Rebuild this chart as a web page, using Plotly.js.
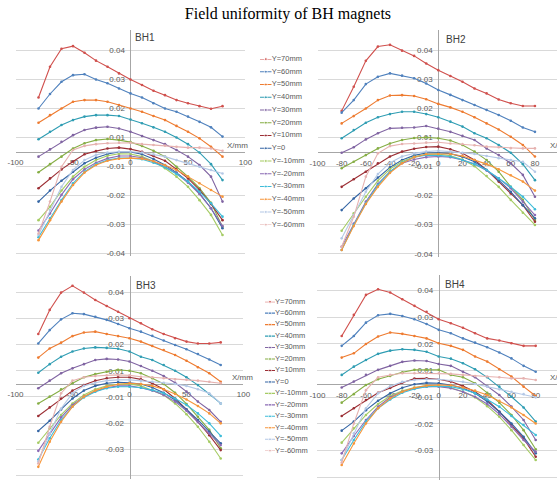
<!DOCTYPE html>
<html><head><meta charset="utf-8">
<script src="https://cdn.plot.ly/plotly-3.0.1.min.js"></script>
<style>html,body{margin:0;padding:0;background:#fff;}#chart{width:557px;height:480px;}</style>
</head><body><div id="chart"></div>
<script>
// ---------- data ----------
const xPositions = [-80,-70,-60,-50,-40,-30,-20,-10,0,10,20,30,40,50,60,70,80];
const seriesNames = ['Y=70mm','Y=60mm','Y=50mm','Y=40mm','Y=30mm','Y=20mm','Y=10mm','Y=0','Y=-10mm','Y=-20mm','Y=-30mm','Y=-40mm','Y=-50mm','Y=-60mm'];
const panelTitles = ['BH1','BH2','BH3','BH4'];
const yTickVals = [-0.035,-0.025,-0.015,-0.005,0.005,0.015,0.025,0.035];
const yTickText = ['-0.04','-0.03','-0.02','-0.01','0.01','0.02','0.03','0.04'];
const xTicksCoarse = [-100,-50,0,50,100];
const xTicksFine = [-100,-80,-60,-40,-20,0,20,40,60,80,100];

const bh1Values = [
 [0.0187,0.0293,0.0355,0.0364,0.0341,0.0314,0.0293,0.0270,0.0249,0.0230,0.0210,0.0195,0.0178,0.0167,0.0157,0.0148,0.0157],
 [0.0149,0.0199,0.0241,0.0264,0.0267,0.0249,0.0236,0.0218,0.0201,0.0187,0.0167,0.0149,0.0138,0.0121,0.0103,0.0084,0.0052],
 [0.0100,0.0126,0.0149,0.0172,0.0178,0.0178,0.0172,0.0161,0.0149,0.0138,0.0123,0.0109,0.0089,0.0069,0.0046,0.0017,-0.0017],
 [0.0043,0.0069,0.0092,0.0109,0.0121,0.0126,0.0126,0.0123,0.0111,0.0098,0.0084,0.0069,0.0049,0.0026,-0.0003,-0.0043,-0.0098],
 [-0.0017,0.0008,0.0034,0.0057,0.0075,0.0083,0.0086,0.0080,0.0069,0.0054,0.0040,0.0026,0.0006,-0.0017,-0.0046,-0.0086,-0.0172],
 [-0.0071,-0.0043,-0.0017,0.0011,0.0029,0.0040,0.0044,0.0040,0.0033,0.0020,0.0003,-0.0017,-0.0052,-0.0086,-0.0126,-0.0176,-0.0259],
 [-0.0126,-0.0092,-0.0061,-0.0034,-0.0009,0.0002,0.0011,0.0014,0.0009,0.0000,-0.0015,-0.0031,-0.0061,-0.0092,-0.0132,-0.0180,-0.0236],
 [-0.0172,-0.0134,-0.0100,-0.0069,-0.0040,-0.0021,-0.0008,-0.0001,-0.0001,-0.0009,-0.0025,-0.0046,-0.0072,-0.0103,-0.0144,-0.0195,-0.0264],
 [-0.0236,-0.0190,-0.0134,-0.0086,-0.0052,-0.0029,-0.0014,-0.0007,-0.0008,-0.0017,-0.0033,-0.0057,-0.0086,-0.0121,-0.0167,-0.0218,-0.0287],
 [-0.0272,-0.0213,-0.0149,-0.0095,-0.0061,-0.0038,-0.0023,-0.0015,-0.0015,-0.0021,-0.0034,-0.0052,-0.0075,-0.0107,-0.0146,-0.0195,-0.0256],
 [-0.0295,-0.0230,-0.0167,-0.0109,-0.0069,-0.0043,-0.0029,-0.0022,-0.0022,-0.0026,-0.0038,-0.0054,-0.0077,-0.0103,-0.0138,-0.0178,-0.0224],
 [-0.0305,-0.0236,-0.0172,-0.0115,-0.0072,-0.0046,-0.0031,-0.0024,-0.0022,-0.0024,-0.0033,-0.0047,-0.0063,-0.0086,-0.0109,-0.0132,-0.0155],
 [-0.0287,-0.0201,-0.0121,-0.0063,-0.0029,-0.0011,-0.0003,0.0000,0.0000,-0.0003,-0.0009,-0.0017,-0.0029,-0.0040,-0.0052,-0.0063,-0.0075],
 [-0.0282,-0.0172,-0.0052,0.0006,0.0020,0.0026,0.0029,0.0031,0.0031,0.0026,0.0023,0.0021,0.0017,0.0014,0.0014,0.0011,0.0003]
];
const bh2Values = [
 [0.0141,0.0224,0.0313,0.0362,0.0368,0.0348,0.0330,0.0304,0.0281,0.0261,0.0241,0.0218,0.0201,0.0180,0.0167,0.0158,0.0158],
 [0.0135,0.0178,0.0233,0.0258,0.0270,0.0262,0.0253,0.0235,0.0213,0.0196,0.0178,0.0161,0.0144,0.0127,0.0107,0.0084,0.0069],
 [0.0098,0.0123,0.0149,0.0178,0.0194,0.0195,0.0192,0.0181,0.0165,0.0153,0.0138,0.0119,0.0098,0.0077,0.0052,0.0024,-0.0016],
 [0.0047,0.0075,0.0100,0.0119,0.0130,0.0138,0.0138,0.0130,0.0119,0.0104,0.0087,0.0064,0.0047,0.0024,-0.0003,-0.0042,-0.0097],
 [-0.0003,0.0016,0.0043,0.0064,0.0081,0.0083,0.0084,0.0089,0.0080,0.0069,0.0055,0.0041,0.0012,-0.0011,-0.0039,-0.0079,-0.0154],
 [-0.0056,-0.0034,-0.0011,0.0012,0.0029,0.0041,0.0048,0.0050,0.0047,0.0039,0.0024,0.0001,-0.0028,-0.0068,-0.0120,-0.0165,-0.0234],
 [-0.0120,-0.0094,-0.0068,-0.0039,-0.0016,0.0001,0.0011,0.0017,0.0018,0.0009,-0.0005,-0.0028,-0.0062,-0.0102,-0.0143,-0.0183,-0.0240],
 [-0.0200,-0.0160,-0.0125,-0.0088,-0.0053,-0.0028,-0.0012,-0.0004,-0.0003,-0.0006,-0.0017,-0.0034,-0.0062,-0.0097,-0.0137,-0.0183,-0.0228],
 [-0.0271,-0.0211,-0.0154,-0.0099,-0.0059,-0.0033,-0.0017,-0.0008,-0.0007,-0.0013,-0.0026,-0.0049,-0.0083,-0.0120,-0.0165,-0.0209,-0.0251],
 [-0.0326,-0.0246,-0.0171,-0.0110,-0.0068,-0.0039,-0.0026,-0.0018,-0.0016,-0.0018,-0.0028,-0.0042,-0.0064,-0.0091,-0.0125,-0.0171,-0.0217],
 [-0.0337,-0.0251,-0.0177,-0.0114,-0.0068,-0.0037,-0.0018,-0.0011,-0.0012,-0.0016,-0.0028,-0.0042,-0.0062,-0.0091,-0.0120,-0.0154,-0.0197],
 [-0.0337,-0.0255,-0.0179,-0.0120,-0.0072,-0.0039,-0.0018,-0.0008,-0.0007,-0.0007,-0.0014,-0.0028,-0.0042,-0.0060,-0.0080,-0.0102,-0.0133],
 [-0.0297,-0.0217,-0.0137,-0.0076,-0.0037,-0.0016,-0.0005,0.0001,0.0004,0.0001,-0.0003,-0.0007,-0.0014,-0.0022,-0.0028,-0.0034,-0.0068],
 [-0.0326,-0.0223,-0.0085,-0.0005,0.0020,0.0027,0.0029,0.0032,0.0033,0.0029,0.0027,0.0023,0.0018,0.0016,0.0013,0.0012,0.0012]
];
const bh3Values = [
 [0.0190,0.0282,0.0348,0.0374,0.0348,0.0320,0.0297,0.0275,0.0250,0.0231,0.0208,0.0190,0.0174,0.0161,0.0154,0.0154,0.0158],
 [0.0154,0.0205,0.0246,0.0269,0.0266,0.0256,0.0244,0.0228,0.0212,0.0199,0.0183,0.0165,0.0148,0.0132,0.0114,0.0093,0.0072],
 [0.0100,0.0135,0.0157,0.0182,0.0196,0.0199,0.0190,0.0182,0.0174,0.0161,0.0144,0.0129,0.0110,0.0088,0.0063,0.0040,0.0008],
 [0.0042,0.0075,0.0103,0.0123,0.0135,0.0139,0.0137,0.0134,0.0123,0.0103,0.0091,0.0072,0.0050,0.0025,-0.0005,-0.0039,-0.0075],
 [-0.0017,0.0012,0.0040,0.0059,0.0075,0.0091,0.0095,0.0093,0.0085,0.0068,0.0050,0.0030,0.0004,-0.0030,-0.0068,-0.0100,-0.0145],
 [-0.0075,-0.0049,-0.0021,0.0002,0.0025,0.0037,0.0046,0.0053,0.0050,0.0040,0.0021,-0.0001,-0.0034,-0.0077,-0.0126,-0.0176,-0.0246],
 [-0.0123,-0.0090,-0.0056,-0.0026,-0.0005,0.0012,0.0021,0.0025,0.0025,0.0017,0.0002,-0.0021,-0.0056,-0.0098,-0.0145,-0.0196,-0.0253],
 [-0.0180,-0.0141,-0.0098,-0.0056,-0.0026,-0.0008,0.0002,0.0006,0.0004,-0.0001,-0.0014,-0.0034,-0.0062,-0.0098,-0.0138,-0.0183,-0.0227],
 [-0.0225,-0.0170,-0.0119,-0.0075,-0.0043,-0.0021,-0.0008,-0.0002,-0.0001,-0.0008,-0.0024,-0.0043,-0.0075,-0.0116,-0.0164,-0.0221,-0.0285],
 [-0.0256,-0.0190,-0.0128,-0.0081,-0.0049,-0.0028,-0.0015,-0.0008,-0.0008,-0.0015,-0.0026,-0.0043,-0.0068,-0.0103,-0.0145,-0.0190,-0.0234],
 [-0.0289,-0.0208,-0.0138,-0.0087,-0.0052,-0.0030,-0.0017,-0.0011,-0.0011,-0.0015,-0.0024,-0.0036,-0.0056,-0.0081,-0.0113,-0.0151,-0.0199],
 [-0.0317,-0.0221,-0.0145,-0.0087,-0.0049,-0.0026,-0.0011,-0.0002,0.0002,-0.0001,-0.0008,-0.0021,-0.0039,-0.0060,-0.0085,-0.0113,-0.0151],
 [-0.0297,-0.0190,-0.0094,-0.0036,-0.0008,0.0004,0.0012,0.0015,0.0015,0.0012,0.0008,0.0004,-0.0001,-0.0008,-0.0021,-0.0036,-0.0075],
 [-0.0304,-0.0164,-0.0036,0.0012,0.0025,0.0030,0.0032,0.0034,0.0032,0.0027,0.0025,0.0021,0.0017,0.0015,0.0012,0.0008,0.0002]
];
const bh4Values = [
 [0.0180,0.0259,0.0334,0.0355,0.0343,0.0318,0.0293,0.0271,0.0243,0.0228,0.0211,0.0190,0.0171,0.0163,0.0153,0.0143,0.0143],
 [0.0143,0.0180,0.0230,0.0258,0.0263,0.0255,0.0243,0.0225,0.0203,0.0190,0.0171,0.0155,0.0138,0.0118,0.0096,0.0068,0.0046],
 [0.0099,0.0115,0.0150,0.0178,0.0193,0.0188,0.0180,0.0171,0.0153,0.0143,0.0128,0.0103,0.0084,0.0055,0.0028,-0.0010,-0.0045],
 [0.0034,0.0065,0.0090,0.0113,0.0125,0.0130,0.0128,0.0121,0.0103,0.0095,0.0078,0.0055,0.0025,-0.0010,-0.0048,-0.0088,-0.0141],
 [-0.0013,0.0009,0.0034,0.0053,0.0068,0.0083,0.0088,0.0086,0.0075,0.0068,0.0046,0.0025,-0.0008,-0.0041,-0.0085,-0.0135,-0.0210],
 [-0.0070,-0.0038,-0.0004,0.0018,0.0030,0.0044,0.0053,0.0053,0.0053,0.0034,0.0025,0.0003,-0.0033,-0.0070,-0.0116,-0.0173,-0.0245],
 [-0.0120,-0.0091,-0.0060,-0.0033,-0.0015,0.0005,0.0020,0.0021,0.0018,0.0009,-0.0008,-0.0029,-0.0060,-0.0104,-0.0154,-0.0204,-0.0273],
 [-0.0175,-0.0141,-0.0098,-0.0063,-0.0035,-0.0014,-0.0001,0.0004,0.0003,-0.0004,-0.0016,-0.0035,-0.0066,-0.0104,-0.0148,-0.0198,-0.0260],
 [-0.0220,-0.0166,-0.0116,-0.0075,-0.0045,-0.0025,-0.0013,-0.0006,-0.0008,-0.0014,-0.0029,-0.0050,-0.0083,-0.0123,-0.0173,-0.0229,-0.0285],
 [-0.0260,-0.0195,-0.0135,-0.0085,-0.0050,-0.0029,-0.0016,-0.0010,-0.0010,-0.0016,-0.0029,-0.0048,-0.0075,-0.0113,-0.0160,-0.0210,-0.0254],
 [-0.0285,-0.0210,-0.0141,-0.0091,-0.0058,-0.0033,-0.0019,-0.0010,-0.0008,-0.0010,-0.0020,-0.0035,-0.0058,-0.0085,-0.0120,-0.0154,-0.0191],
 [-0.0304,-0.0223,-0.0148,-0.0091,-0.0054,-0.0029,-0.0014,-0.0006,-0.0004,-0.0005,-0.0013,-0.0025,-0.0041,-0.0063,-0.0088,-0.0116,-0.0148],
 [-0.0285,-0.0185,-0.0091,-0.0035,-0.0008,0.0008,0.0015,0.0018,0.0018,0.0013,0.0008,0.0000,-0.0010,-0.0020,-0.0029,-0.0038,-0.0050],
 [-0.0295,-0.0148,-0.0023,0.0025,0.0034,0.0040,0.0040,0.0040,0.0040,0.0038,0.0034,0.0030,0.0028,0.0025,0.0021,0.0021,0.0015]
];

// ---------- styles ----------
const seriesColors = ['#D0504D','#4F81BD','#EE7B30','#2F9DB3','#8064A2','#86AE45','#9C2F35','#3465A4','#A5CB63','#8B6BB5','#3DBCD9','#F7963B','#B4C8E6','#E6B2B0'];
const FONT = 'Liberation Sans, Arial, sans-serif';
const TXT = '#595959';

const panels = [
  {vals: bh1Values, ax: '', xd: [0.02783, 0.44075], xr: [-100, 100], yd: [0.46646, 0.93771], yr: [-0.036, 0.042], xpos: 0.68396, ypos: 0.23429, xt: xTicksCoarse},
  {vals: bh2Values, ax: '2', xd: [0.57002, 1], xr: [-100, 98.26], yd: [0.46529, 0.93813], yr: [-0.036, 0.042], xpos: 0.68354, ypos: 0.78689, xt: xTicksFine},
  {vals: bh3Values, ax: '3', xd: [0.02783, 0.43716], xr: [-100, 100], yd: [0.00119, 0.42421], yr: [-0.0365, 0.041], xpos: 0.20042, ypos: 0.23250, xt: xTicksCoarse},
  {vals: bh4Values, ax: '4', xd: [0.56993, 1], xr: [-100, 97.57], yd: [0.0, 0.42781], yr: [-0.036, 0.041], xpos: 0.20, ypos: 0.78761, xt: xTicksFine}
];

const traces = [];
const layout = {
  width: 557, height: 480,
  margin: {l: 0, r: 0, t: 0, b: 0},
  paper_bgcolor: '#fff', plot_bgcolor: 'rgba(0,0,0,0)',
  showlegend: false,
  font: {family: FONT, size: 8, color: TXT},
  title: {text: 'Field uniformity of BH magnets', x: 0.517, xanchor: 'center', y: 0.972, yanchor: 'middle',
          font: {family: 'Liberation Serif, Times New Roman, serif', size: 16, color: '#000'}},
  annotations: []
};

const titleShift = [[2, 0], [6, -2], [4, -2], [4, -2]];
const xlabelCfg = [
  {xref: 'x domain', x: 1, xanchor: 'right', xshift: 5},
  {xref: 'paper', x: 0.984, xanchor: 'left', xshift: 0},
  {xref: 'x3 domain', x: 1, xanchor: 'right', xshift: 12},
  {xref: 'paper', x: 0.984, xanchor: 'left', xshift: 0}
];

panels.forEach((p, k) => {
  const xa = 'x' + p.ax, ya = 'y' + p.ax;
  p.vals.forEach((vals, i) => {
    traces.push({
      type: 'scatter', mode: 'lines+markers', x: xPositions, y: vals,
      xaxis: xa, yaxis: ya, name: seriesNames[i],
      line: {color: seriesColors[i], width: 1.1},
      marker: {color: seriesColors[i], size: 2.6},
      hoverinfo: 'skip'
    });
  });
  layout['xaxis' + p.ax] = {
    domain: p.xd, range: p.xr, anchor: 'free', position: p.xpos,
    showgrid: false, zeroline: false, showline: true, linecolor: '#a6a6a6', linewidth: 1,
    tickmode: 'array', tickvals: p.xt, ticktext: p.xt.map(String), ticks: '',
    tickfont: {family: FONT, size: 8, color: TXT}, ticklabelstandoff: 3,
    layer: 'below traces', fixedrange: true
  };
  layout['yaxis' + p.ax] = {
    domain: p.yd, range: p.yr, anchor: 'free', position: p.ypos, side: 'left',
    showgrid: true, gridcolor: '#d9d9d9', gridwidth: 1, zeroline: false,
    showline: true, linecolor: '#a6a6a6', linewidth: 1,
    tickmode: 'array', tickvals: yTickVals, ticktext: yTickText, ticks: '',
    tickfont: {family: FONT, size: 8, color: TXT}, ticklabelstandoff: 4,
    layer: 'below traces', fixedrange: true
  };
  layout.annotations.push({
    text: panelTitles[k], xref: xa, x: 0, xanchor: 'left', xshift: titleShift[k][0],
    yref: ya + ' domain', y: 1, yanchor: 'top', yshift: titleShift[k][1],
    showarrow: false, font: {family: FONT, size: 10, color: '#404040'}
  });
  const xl = xlabelCfg[k];
  layout.annotations.push({
    text: 'X/mm', xref: xl.xref, x: xl.x, xanchor: xl.xanchor, xshift: xl.xshift,
    yref: ya, y: 0, yanchor: 'bottom', yshift: 0,
    showarrow: false, font: {family: FONT, size: 8, color: TXT}
  });
});

// custom legends (two), drawn on hidden helper axes
const legendCfg = [
  {ax: '5', xd: [0.46679, 0.48779], yd: [0.53188, 0.87708]},
  {ax: '6', xd: [0.47576, 0.49372], yd: [0.06104, 0.37146]}
];
legendCfg.forEach(lc => {
  seriesNames.forEach((nm, i) => {
    traces.push({
      type: 'scatter', mode: 'lines+markers+text', x: [0, 0.5, 1], y: [i, i, i],
      xaxis: 'x' + lc.ax, yaxis: 'y' + lc.ax, cliponaxis: false,
      line: {color: seriesColors[i], width: 1.1},
      marker: {color: seriesColors[i], size: [0, 3, 0]},
      text: ['', '', nm], textposition: 'middle right',
      textfont: {family: FONT, size: 7.5, color: TXT}, hoverinfo: 'skip'
    });
  });
  layout['xaxis' + lc.ax] = {domain: lc.xd, range: [0, 1], visible: false, fixedrange: true};
  layout['yaxis' + lc.ax] = {domain: lc.yd, range: [seriesNames.length - 1, 0], visible: false, fixedrange: true};
});

Plotly.newPlot('chart', traces, layout, {displayModeBar: false, staticPlot: true});
</script>
</body></html>
